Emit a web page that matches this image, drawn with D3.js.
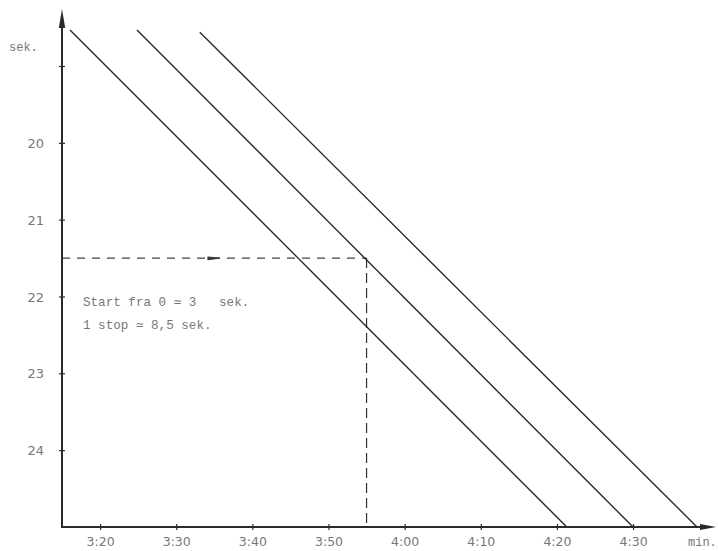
<!DOCTYPE html>
<html><head><meta charset="utf-8">
<script src="https://cdn.jsdelivr.net/npm/d3@7"></script>
<style>
html,body{margin:0;padding:0;background:#fff;}
svg{display:block;}
</style></head>
<body>
<script>
// ---- data ----
const yTicks = [19, 20, 21, 22, 23, 24];
const yTickLabels = ["", "20", "21", "22", "23", "24"];
const xTicks = [200, 210, 220, 230, 240, 250, 260, 270];       // seconds
const xTickLabels = ["3:20", "3:30", "3:40", "3:50", "4:00", "4:10", "4:20", "4:30"];
const lineNames = ["0 stop", "1 stop", "2 stop"];
const lineStartT = [196.05, 204.85, 213.1];
const lineStartS = [18.53, 18.53, 18.56];
const lineEndT = [261.3, 270.0, 278.4];
const lineEndS = [25, 25, 25];
const readSek = 21.5;
const readTime = 235;
const notes = ["Start fra 0 \u2243 3   sek.", "1 stop \u2243 8,5 sek."];

// ---- layout ----
const W = 718, H = 551;
const svg = d3.select("body").append("svg").attr("width", W).attr("height", H);
const x = d3.scaleLinear().domain([195, 280]).range([62, 709.2]);
const y = d3.scaleLinear().domain([19, 25]).range([66, 527]);
const ink = "#2a2a2a";
const grey = "#777";

// dashed reading lines
svg.append("line")
  .attr("x1", x(195)).attr("x2", x(readTime))
  .attr("y1", y(readSek)).attr("y2", y(readSek))
  .attr("stroke", "#444").attr("stroke-width", 1.1).attr("stroke-dasharray", "8,7");
svg.append("line")
  .attr("x1", x(readTime)).attr("x2", x(readTime))
  .attr("y1", y(readSek)).attr("y2", y(25))
  .attr("stroke", "#333").attr("stroke-width", 1.2).attr("stroke-dasharray", "10,5");
// arrow on dashed line
const ax = x(215.2), ay = y(readSek);
svg.append("path")
  .attr("d", `M${ax - 8},${ay - 1.2} L${ax + 4},${ay} L${ax - 8},${ay + 1.8} Z`)
  .attr("fill", "#333").attr("stroke", "#333").attr("stroke-width", 0.8);

// diagonal lines
lineNames.forEach((n, i) => {
  svg.append("line")
    .attr("x1", x(lineStartT[i])).attr("y1", y(lineStartS[i]))
    .attr("x2", x(lineEndT[i])).attr("y2", y(lineEndS[i]))
    .attr("stroke", ink).attr("stroke-width", 1.4);
});

// axes
const yAxisG = svg.append("g").attr("transform", `translate(${x(195)},0)`)
  .call(d3.axisLeft(y).tickValues(yTicks).tickSize(3).tickFormat((d, i) => yTickLabels[i]));
yAxisG.select(".domain").remove();
yAxisG.selectAll(".tick line").attr("x2", 3).attr("x1", -3).attr("stroke", ink).attr("stroke-width", 1.2);
yAxisG.selectAll(".tick text").attr("x", -18).attr("dy", "0.35em")
  .attr("font-family", "DejaVu Sans, sans-serif").attr("font-size", 13).attr("fill", grey);

const xAxisG = svg.append("g").attr("transform", `translate(0,${y(25)})`)
  .call(d3.axisBottom(x).tickValues(xTicks).tickSize(3).tickFormat((d, i) => xTickLabels[i]));
xAxisG.select(".domain").remove();
xAxisG.selectAll(".tick line").attr("y1", -3).attr("y2", 3).attr("stroke", ink).attr("stroke-width", 1.2);
xAxisG.selectAll(".tick text").attr("y", 15).attr("dy", "0.35em")
  .attr("font-family", "DejaVu Sans, sans-serif").attr("font-size", 12.5).attr("fill", grey);

// axis lines with arrows
const ox = x(195), oy = y(25);
svg.append("line").attr("x1", ox).attr("y1", oy + 1).attr("x2", ox).attr("y2", 22)
  .attr("stroke", ink).attr("stroke-width", 2);
svg.append("path").attr("d", `M${ox},9 L${ox - 3.2},28 L${ox + 3.2},28 Z`).attr("fill", ink);
svg.append("line").attr("x1", ox - 1).attr("y1", oy).attr("x2", 706).attr("y2", oy)
  .attr("stroke", ink).attr("stroke-width", 2);
svg.append("path").attr("d", `M716,${oy} L700,${oy - 3} L700,${oy + 3} Z`).attr("fill", ink);

// unit labels
const mono = "Liberation Mono, DejaVu Sans Mono, monospace";
svg.append("text").attr("x", 9).attr("y", 51).text("sek.")
  .attr("font-family", mono).attr("font-size", 12).attr("fill", grey);
svg.append("text").attr("x", 688).attr("y", 546).text("min.")
  .attr("font-family", mono).attr("font-size", 12).attr("fill", grey);

// notes
notes.forEach((t, i) => {
  svg.append("text").attr("x", 83).attr("y", 306 + i * 23).text(t)
    .attr("font-family", mono).attr("font-size", 12.6).attr("fill", grey)
    .style("white-space", "pre");
});
</script>
</body></html>
